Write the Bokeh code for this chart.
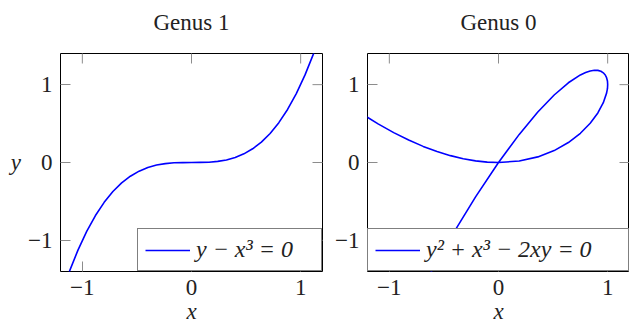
import math
from bokeh.plotting import figure
from bokeh.models import (Range1d, FixedTicker, LinearAxis, Legend, LegendItem)
from bokeh.layouts import row
from bokeh.embed import file_html
from bokeh.resources import INLINE

# ---- data ----
titles = ["Genus 1", "Genus 0"]
legend_labels = ["y − x³ = 0", "y² + x³ − 2xy = 0"]
tick_values = [-1, 0, 1]
tick_labels = ["−1", "0", "1"]
x_label = "x"
y_label = "y"

genus1_x = [-1.12, -1.04, -0.96, -0.88, -0.80, -0.72, -0.64, -0.56, -0.48, -0.40,
            -0.32, -0.24, -0.16, -0.08, 0.0, 0.08, 0.16, 0.24, 0.32, 0.40,
            0.48, 0.56, 0.64, 0.72, 0.80, 0.88, 0.96, 1.04, 1.12]
genus1_y = [-1.405, -1.125, -0.885, -0.681, -0.512, -0.373, -0.262, -0.176, -0.111, -0.064,
            -0.033, -0.014, -0.004, -0.001, 0.0, 0.001, 0.004, 0.014, 0.033, 0.064,
            0.111, 0.176, 0.262, 0.373, 0.512, 0.681, 0.885, 1.125, 1.405]

genus0_x = [-1.25, -1.103, -0.96, -0.823, -0.69, -0.563, -0.44, -0.323, -0.21, -0.103,
            0.0, 0.19, 0.36, 0.51, 0.64, 0.75, 0.84, 0.91, 0.96, 0.99,
            0.998, 1.0, 0.998, 0.99, 0.978, 0.96, 0.938, 0.91, 0.878, 0.84,
            0.798, 0.75, 0.64, 0.51, 0.36, 0.19, 0.0, -0.21, -0.44, -0.69]
genus0_y = [0.625, 0.496, 0.384, 0.288, 0.207, 0.141, 0.088, 0.048, 0.021, 0.005,
            0.0, 0.019, 0.072, 0.153, 0.256, 0.375, 0.504, 0.637, 0.768, 0.891,
            0.948, 1.0, 1.047, 1.089, 1.124, 1.152, 1.172, 1.183, 1.185, 1.176,
            1.156, 1.125, 1.024, 0.867, 0.648, 0.361, 0.0, -0.441, -0.968, -1.587]

x_limits = (-1.2, 1.2)
y_limits = (-1.4, 1.4)

FONT = "Liberation Serif"
FS = "23px"
BLUE = "#0000ff"
TICK = "#8c8c8c"
INK = "#222222"
SHIFT = 12  # extra top border hidden above the page edge


def make_fig(title, xs, ys, label, width, left, right, label_w, show_ylabel):
    p = figure(width=width, height=327 + SHIFT, output_backend="svg", toolbar_location=None,
               x_range=Range1d(*x_limits), y_range=Range1d(*y_limits),
               x_axis_type=None, y_axis_type=None,
               min_border_left=left, min_border_right=right,
               min_border_top=53 + SHIFT, min_border_bottom=56)
    p.title.text = title
    p.title.align = "center"
    p.title.vertical_align = "top"
    p.title.text_font = FONT
    p.title.text_font_style = "normal"
    p.title.text_font_size = FS
    p.title.text_color = INK
    p.title.standoff = 33
    p.grid.visible = False
    p.outline_line_color = "black"
    p.outline_line_width = 1
    p.background_fill_color = "white"
    p.border_fill_color = "white"

    overrides = {v: t for v, t in zip(tick_values, tick_labels)}

    def style(ax):
        ax.ticker = FixedTicker(ticks=tick_values)
        ax.minor_tick_line_color = None
        ax.major_tick_in = 10
        ax.major_tick_out = 0
        ax.major_tick_line_color = TICK
        ax.major_tick_line_width = 1
        ax.axis_line_color = None
        ax.major_label_overrides = overrides
        ax.major_label_text_font = FONT
        ax.major_label_text_font_size = FS
        ax.major_label_text_color = INK

    xb = LinearAxis()
    style(xb)
    xb.major_label_standoff = 8
    xb.axis_label = x_label
    xb.axis_label_text_font = FONT
    xb.axis_label_text_font_style = "italic"
    xb.axis_label_text_font_size = FS
    xb.axis_label_text_color = INK
    xb.axis_label_standoff = 1
    p.add_layout(xb, "below")

    yl = LinearAxis()
    style(yl)
    yl.major_label_standoff = 8
    if show_ylabel:
        yl.axis_label = y_label
        yl.axis_label_text_font = FONT
        yl.axis_label_text_font_style = "italic"
        yl.axis_label_text_font_size = FS
        yl.axis_label_text_color = INK
        yl.axis_label_orientation = "horizontal"
        yl.axis_label_standoff = 4
    p.add_layout(yl, "left")

    # inward ticks on the top and right edges (half of each dash is clipped by the frame)
    p.scatter(tick_values, [y_limits[1]] * len(tick_values), marker="dash", size=20,
              angle=math.pi / 2, line_color=TICK, line_width=1)
    p.scatter([x_limits[1]] * len(tick_values), tick_values, marker="dash", size=20,
              line_color=TICK, line_width=1)

    r = p.line(xs, ys, line_color=BLUE, line_width=1.6, line_join="round")

    leg = Legend(items=[LegendItem(label=label, renderers=[r])],
                 location="bottom_right", margin=0, padding=7, spacing=0,
                 glyph_width=45, glyph_height=26, label_height=26,
                 label_width=label_w, label_standoff=6,
                 border_line_color="black", border_line_width=1,
                 background_fill_color="white", background_fill_alpha=1.0,
                 label_text_font=FONT, label_text_font_style="italic",
                 label_text_font_size="24px", label_text_color=INK)
    p.add_layout(leg, "center")
    return p


p1 = make_fig(titles[0], genus1_x, genus1_y, legend_labels[0], 332, 60, 10, 118, True)
p2 = make_fig(titles[1], genus0_x, genus0_y, legend_labels[1], 297, 35, 0, 195, False)

layout = row(p1, p2, margin=(-SHIFT, 0, 0, 0))
open("out.html", "w").write(file_html(layout, INLINE))
